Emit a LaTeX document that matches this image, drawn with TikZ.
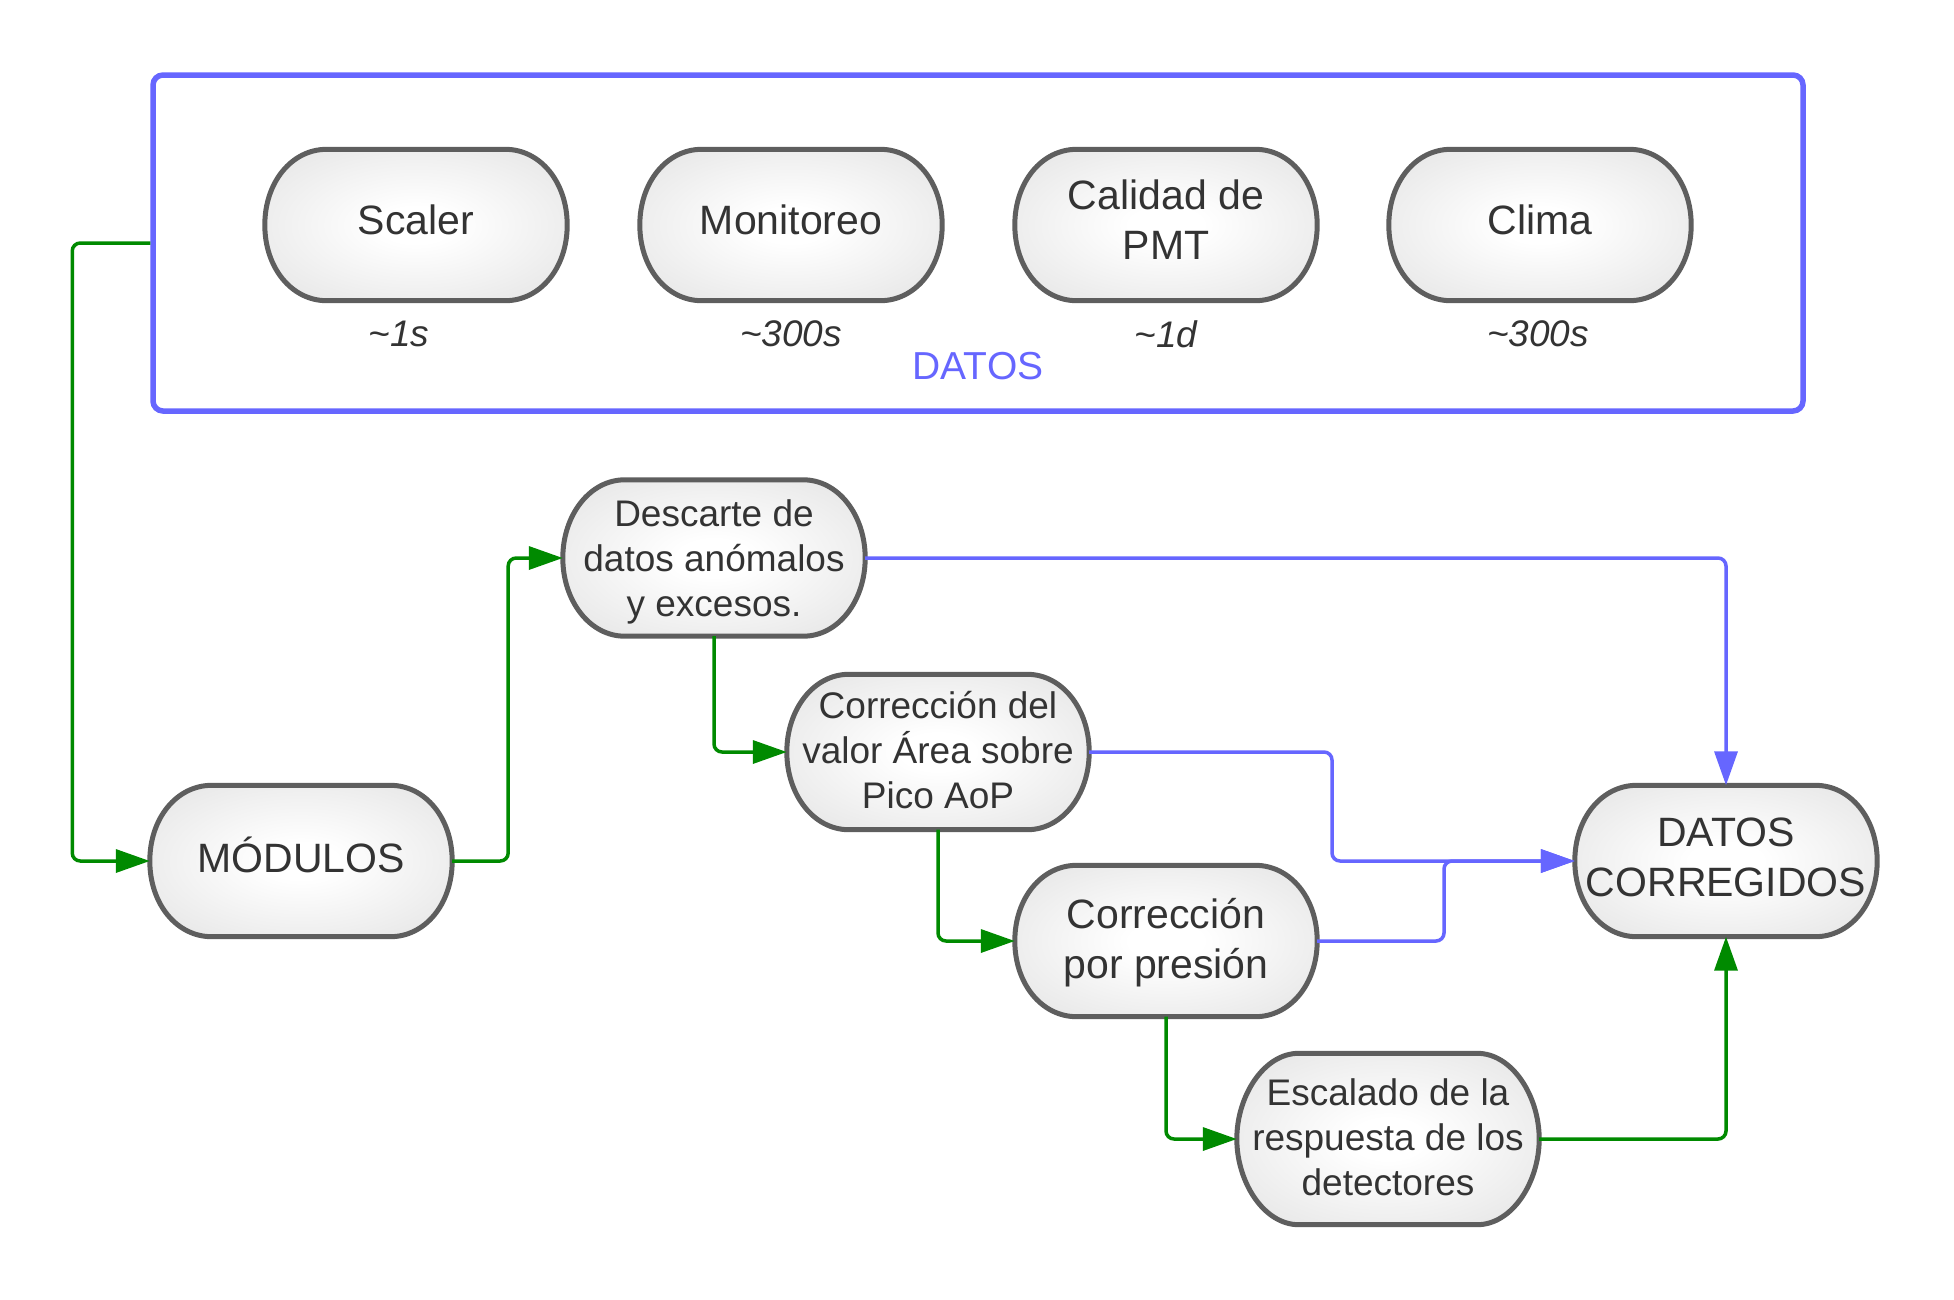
\documentclass[tikz,border=0pt]{standalone}
\usepackage{fontspec}
\setmainfont{Liberation Sans}
\usetikzlibrary{positioning,arrows.meta,calc}

\definecolor{bordegris}{HTML}{5E5E5E}
\definecolor{azuldatos}{HTML}{6666FF}
\definecolor{verdeflujo}{HTML}{008A00}
\definecolor{textogris}{HTML}{333333}
\definecolor{rellenogris}{HTML}{DCDCDC}

\pgfdeclareradialshading{relleno}{\pgfpoint{0bp}{0bp}}{%
  color(0bp)=(white); color(6bp)=(white); color(44bp)=(rellenogris); color(50bp)=(rellenogris)}
\pgfdeclarelayer{fondo}
\pgfsetlayers{fondo,main}

\begin{document}
\begin{tikzpicture}[
    x=1pt, y=-1pt,
    bloque/.style={
        rectangle,
        minimum width=302pt,
        minimum height=151pt,
        inner sep=0pt,
        align=center,
        text=textogris,
        text depth=10pt,
        font=\fontsize{41}{50}\selectfont
    },
    bloquechico/.style={
        bloque,
        text depth=4pt,
        font=\fontsize{37}{45}\selectfont
    },
    contorno/.style={
        draw=bordegris,
        line width=5pt,
        shade, shading=relleno
    },
    tiempo/.style={
        inner sep=0pt,
        text=textogris,
        font=\itshape\fontsize{37}{44}\selectfont
    },
    panel/.style={
        rectangle,
        rounded corners=10pt,
        minimum width=1650pt,
        minimum height=336pt,
        draw=azuldatos,
        line width=5.5pt,
        inner sep=0pt
    },
    flujo/.style={-{Triangle[length=34pt, width=23pt]}, line width=3.5pt, draw=verdeflujo, rounded corners=8pt},
    salida/.style={flujo, draw=azuldatos}
]

\useasboundingbox (0,0) rectangle (1954,1299);

% --- Recuadro de datos ---
\node[panel] (datos) at (978,243) {};
\node[inner sep=0pt, text=azuldatos, font=\fontsize{39}{46}\selectfont] (datoslbl) at (978,366) {DATOS};

% --- Fuentes de datos ---
\node[bloque] (scaler) at (416,225) {Scaler};
\node[bloque] (monit)  at (791,225) {Monitoreo};
\node[bloque] (calid)  at (1166,225) {Calidad de\\PMT};
\node[bloque] (clima)  at (1540,225) {Clima};

% --- Frecuencias ---
\node[tiempo] (tscaler) at (399,334) {\textasciitilde1s};
\node[tiempo] (tmonit)  at (791,334) {\textasciitilde300s};
\node[tiempo] (tcalid)  at (1166,334) {\textasciitilde1d};
\node[tiempo] (tclima)  at (1538,334) {\textasciitilde300s};

% --- Cadena de correcciones ---
\node[bloque, text depth=12.5pt] (mod) at (301,861) {MÓDULOS};
\node[bloquechico, minimum height=156pt, text depth=-1pt] (desc) at (714,558) {Descarte de\\datos anómalos\\y excesos.};
\node[bloquechico, minimum height=155pt] (aop) at (938,752) {Corrección del\\valor Área sobre\\Pico AoP};
\node[bloque, text depth=6pt] (pres) at (1166,941) {Corrección\\por presión};
\node[bloquechico, minimum height=171pt] (esc) at (1388,1139) {Escalado de la\\respuesta de los\\detectores};
\node[bloque, text depth=7.5pt] (dc) at (1726,861) {DATOS\\CORREGIDOS};

% --- Contornos de los bloques ---
\begin{pgfonlayer}{fondo}
\foreach \n in {scaler,monit,calid,clima,mod,desc,aop,pres,esc,dc}
    \path[contorno] ($(\n.north west)+(62,0)$) -- ($(\n.north east)+(-62,0)$)
        .. controls +(35,0) and +(0,-43) .. (\n.east)
        .. controls +(0,43) and +(35,0) .. ($(\n.south east)+(-62,0)$)
        -- ($(\n.south west)+(62,0)$)
        .. controls +(-35,0) and +(0,43) .. (\n.west)
        .. controls +(0,-43) and +(-35,0) .. cycle;
\end{pgfonlayer}

% --- Uniones ---
\coordinate (j1) at (1332,861);
\coordinate (j2) at (1444,861);

% --- Flechas verdes ---
\draw[flujo] (datos.west) -- ++(-78,0) |- (mod.west);
\draw[flujo] (mod.east) -- ++(56,0) |- (desc.west);
\draw[flujo] (desc.south) |- (aop.west);
\draw[flujo] (aop.south) |- (pres.west);
\draw[flujo] (pres.south) |- (esc.west);
\draw[flujo] (esc.east) -| (dc.south);

% --- Flechas azules ---
\draw[salida] (desc.east) -| (dc.north);
\draw[salida] (aop.east) -| (j1) -- (dc.west);
\draw[salida] (pres.east) -| (j2) -- (dc.west);

\end{tikzpicture}
\end{document}
